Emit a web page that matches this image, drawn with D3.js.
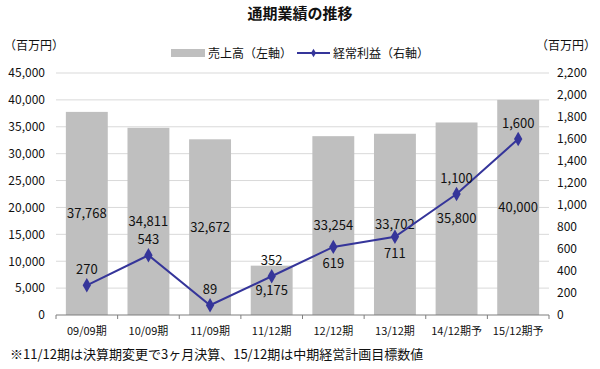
<!DOCTYPE html>
<html>
<head>
<meta charset="utf-8">
<script src="https://cdn.jsdelivr.net/npm/d3@7"></script>
<style>
  body { margin: 0; background: #fff; }
  svg text { font-family: "Noto Sans CJK JP", "Noto Sans", sans-serif; fill: #111; }
</style>
</head>
<body>
<svg id="chart" width="600" height="369"></svg>
<script>
// chart data
const periods = ['09/09期', '10/09期', '11/09期', '11/12期', '12/12期', '13/12期', '14/12期予', '15/12期予'];
const sales = [37768, 34811, 32672, 9175, 33254, 33702, 35800, 40000];
const profit = [270, 543, 89, 352, 619, 711, 1100, 1600];
const leftTicks = d3.range(0, 45001, 5000);
const rightTicks = d3.range(0, 2201, 200);

const svg = d3.select('#chart');
const m = { left: 56, right: 549, top: 73, bottom: 315 };

const x = d3.scaleBand().domain(periods).range([m.left, m.right]).paddingInner(0.32).paddingOuter(0.16);
const yL = d3.scaleLinear().domain([0, 45000]).range([m.bottom, m.top]);
const yR = d3.scaleLinear().domain([0, 2200]).range([m.bottom, m.top]);
const fmt = d3.format(',');

// title
svg.append('text')
  .attr('x', 300).attr('y', 19)
  .attr('text-anchor', 'middle')
  .attr('font-size', 15).attr('font-weight', 'bold')
  .text('通期業績の推移');

// unit labels
svg.append('text').attr('x', 4).attr('y', 50).attr('font-size', 12).text('（百万円）');
svg.append('text').attr('x', 536).attr('y', 50).attr('font-size', 12).text('（百万円）');

// legend
const lg = svg.append('g').attr('transform', 'translate(0,53)');
lg.append('rect').attr('x', 171).attr('y', -4).attr('width', 34).attr('height', 8).attr('fill', '#bfbfbf');
lg.append('text').attr('x', 208).attr('y', 4.5).attr('font-size', 12).text('売上高（左軸）');
lg.append('line').attr('x1', 297).attr('x2', 330).attr('y1', 0).attr('y2', 0)
  .attr('stroke', '#35359a').attr('stroke-width', 2);
lg.append('path').attr('d', d3.symbol(d3.symbolDiamond, 22)()).attr('transform', 'translate(313.5,0)').attr('fill', '#35359a');
lg.append('text').attr('x', 333).attr('y', 4.5).attr('font-size', 12).text('経常利益（右軸）');

// gridlines
svg.append('g')
  .selectAll('line')
  .data(leftTicks.filter(d => d > 0))
  .join('line')
    .attr('x1', m.left).attr('x2', m.right)
    .attr('y1', d => yL(d)).attr('y2', d => yL(d))
    .attr('stroke', '#d9d9d9').attr('stroke-width', 1);

// left axis labels
svg.append('g')
  .attr('transform', `translate(${m.left},0)`)
  .call(d3.axisLeft(yL).tickValues(leftTicks).tickFormat(fmt).tickSize(0).tickPadding(11))
  .call(g => g.select('.domain').remove())
  .call(g => g.selectAll('text').attr('font-size', 12).attr('fill', '#111'));

// right axis labels
svg.append('g')
  .attr('transform', `translate(${m.right},0)`)
  .call(d3.axisRight(yR).tickValues(rightTicks).tickFormat(fmt).tickSize(0).tickPadding(8))
  .call(g => g.select('.domain').remove())
  .call(g => g.selectAll('text').attr('font-size', 12).attr('fill', '#111'));

// bars
svg.append('g')
  .selectAll('rect')
  .data(periods)
  .join('rect')
    .attr('x', d => x(d))
    .attr('width', x.bandwidth())
    .attr('y', (d, i) => yL(sales[i]))
    .attr('height', (d, i) => m.bottom - yL(sales[i]))
    .attr('fill', '#bfbfbf');

// bottom axis
const step = x.step();
const bx = svg.append('g').attr('transform', `translate(0,${m.bottom})`);
bx.append('line').attr('x1', m.left).attr('x2', m.right).attr('stroke', '#7f7f7f').attr('stroke-width', 1.2);
bx.selectAll('line.tk')
  .data(d3.range(periods.length + 1))
  .join('line')
    .attr('class', 'tk')
    .attr('x1', i => m.left + i * step).attr('x2', i => m.left + i * step)
    .attr('y1', 0).attr('y2', 4)
    .attr('stroke', '#7f7f7f');
bx.selectAll('text')
  .data(periods)
  .join('text')
    .attr('x', d => x(d) + x.bandwidth() / 2)
    .attr('y', 20)
    .attr('text-anchor', 'middle')
    .attr('font-size', 11)
    .text(d => d);

// bar value labels (centered)
svg.append('g')
  .selectAll('text')
  .data(periods)
  .join('text')
    .attr('x', d => x(d) + x.bandwidth() / 2)
    .attr('y', (d, i) => (yL(sales[i]) + m.bottom) / 2)
    .attr('dy', '0.35em')
    .attr('text-anchor', 'middle')
    .attr('font-size', 13)
    .text((d, i) => fmt(sales[i]));

// profit line
const cx = i => x(periods[i]) + x.bandwidth() / 2;
svg.append('path')
  .datum(profit)
  .attr('fill', 'none')
  .attr('stroke', '#35359a')
  .attr('stroke-width', 2)
  .attr('d', d3.line().x((d, i) => cx(i)).y(d => yR(d)));

svg.append('g')
  .selectAll('path')
  .data(profit)
  .join('path')
    .attr('d', d3.symbol(d3.symbolDiamond, 60)())
    .attr('transform', (d, i) => `translate(${cx(i)},${yR(d)})`)
    .attr('fill', '#35359a');

// profit labels: 12/12 and 13/12 sit below the point
const below = new Set([4, 5]);
svg.append('g')
  .selectAll('text')
  .data(profit)
  .join('text')
    .attr('x', (d, i) => cx(i))
    .attr('y', (d, i) => yR(d) + (below.has(i) ? 17 : -16))
    .attr('dy', '0.35em')
    .attr('text-anchor', 'middle')
    .attr('font-size', 13)
    .text(d => fmt(d));

// footnote
svg.append('text')
  .attr('x', 10).attr('y', 359)
  .attr('font-size', 13)
  .text('※11/12期は決算期変更で3ヶ月決算、15/12期は中期経営計画目標数値');
</script>
</body>
</html>
